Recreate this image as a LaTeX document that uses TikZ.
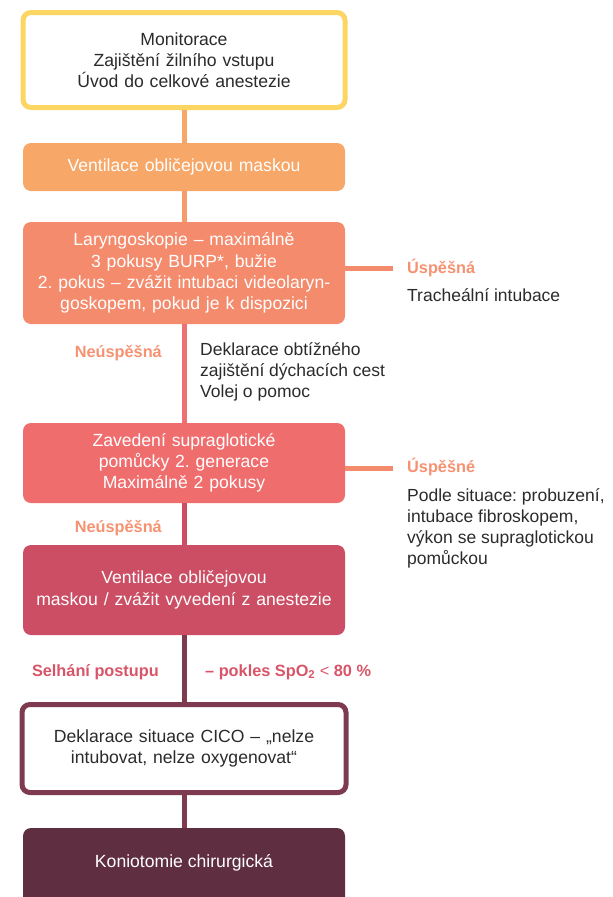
\documentclass[tikz,border=0pt]{standalone}
\usepackage{fontspec}
\setmainfont{Liberation Sans}
\frenchspacing
\definecolor{cYel}{HTML}{FDD563}
\definecolor{cOr}{HTML}{F7A768}
\definecolor{cSal}{HTML}{F48B6C}
\definecolor{cRed}{HTML}{F06D6E}
\definecolor{cRedL}{HTML}{EE6F74}
\definecolor{cRose}{HTML}{CB4E64}
\definecolor{cRoseT}{HTML}{D85468}
\definecolor{cPlum}{HTML}{7E3B50}
\definecolor{cDark}{HTML}{5F2F41}
\definecolor{cTxt}{HTML}{2B2B2B}
\definecolor{cLbl}{HTML}{F59272}
\begin{document}
\begin{tikzpicture}[x=1pt,y=-1pt,
  font=\fontsize{17.6}{21.2}\selectfont,
  box/.style={rectangle, rounded corners=8pt, minimum width=322pt, inner sep=0pt, align=center, text width=320pt},
  filled/.style={box, draw=none, text=white},
  framed/.style={box, line width=5pt, fill=white, text=cTxt},
  conn/.style={line width=5pt},
  lbl/.style={anchor=west, inner sep=0pt, font=\fontsize{16.3}{20}\selectfont\bfseries},
  note/.style={anchor=west, inner sep=0pt, align=left, text=cTxt, font=\fontsize{17.5}{21.3}\selectfont}]
\useasboundingbox (0,0) rectangle (613,897);
\begin{scope}
\clip (0,0) rectangle (613,897);
\node[filled, fill=cDark, minimum height=100pt] (b7) at (184,878) {};
\end{scope}
\node[framed, draw=cYel, minimum height=95pt] (b1) at (184,60) {Monitorace\\Zajištění žilního vstupu\\Úvod do celkové anestezie};
\node[filled, fill=cOr, minimum height=48pt] (b2) at (184,167) {Ventilace obličejovou maskou};
\node[filled, fill=cSal, minimum height=102pt] (b3) at (184,273) {Laryngoskopie – maximálně\\3 pokusy BURP*, bužie\\2. pokus – zvážit intubaci videolaryn-\\goskopem, pokud je k dispozici};
\node[filled, fill=cRed, minimum height=80pt] (b4) at (184,463) {Zavedení supraglotické\\pomůcky 2. generace\\Maximálně 2 pokusy};
\node[filled, fill=cRose, minimum height=90pt] (b5) at (184,590) {Ventilace obličejovou\\maskou / zvážit vyvedení z anestezie};
\node[framed, draw=cPlum, minimum width=324pt, minimum height=88pt] (b6) at (184,748.5) {Deklarace situace CICO – „nelze\\intubovat, nelze oxygenovat“};
\node[text=white, inner sep=0pt] (t7) at (184,863) {Koniotomie chirurgická};
% vertical connectors
\draw[conn, cOr] (b1.south) -- (b2.north);
\draw[conn, cOr!60!cSal] (b2.south) -- (b3.north);
\draw[conn, cRedL] (b3.south) -- (b4.north);
\draw[conn, cRose] (b4.south) -- (b5.north);
\draw[conn, cPlum] (b5.south) -- (b6.north);
\draw[conn, cPlum] (b6.south) -- (b7.north);
% side connectors
\coordinate (r1) at (393,268);
\coordinate (r2) at (393,468);
\draw[conn, cSal] (b3.east |- r1) -- (r1);
\draw[conn, cSal] (b4.east |- r2) -- (r2);
% labels
\node[lbl, text=cLbl] (u1) at (407,268) {Úspěšná};
\node[note] (n1) at (407,295) {Tracheální intubace};
\node[lbl, text=cLbl, anchor=east] (ne1) at (162,353) {Neúspěšná};
\node[note, anchor=north west] (n2) at (200,342) {Deklarace obtížného\\zajištění dýchacích cest\\Volej o pomoc};
\node[lbl, text=cLbl] (u2) at (407,467) {Úspěšné};
\node[note, anchor=north west] (n3) at (407,488) {Podle situace: probuzení,\\intubace fibroskopem,\\výkon se supraglotickou\\pomůckou};
\node[lbl, text=cLbl, anchor=east] (ne2) at (162,528) {Neúspěšná};
\node[lbl, text=cRoseT, anchor=east] (s1) at (159,672) {Selhání postupu};
\node[lbl, text=cRoseT] (s2) at (205,672) {– pokles SpO\textsubscript{2} {\mdseries<} 80 \%};
\end{tikzpicture}
\end{document}
